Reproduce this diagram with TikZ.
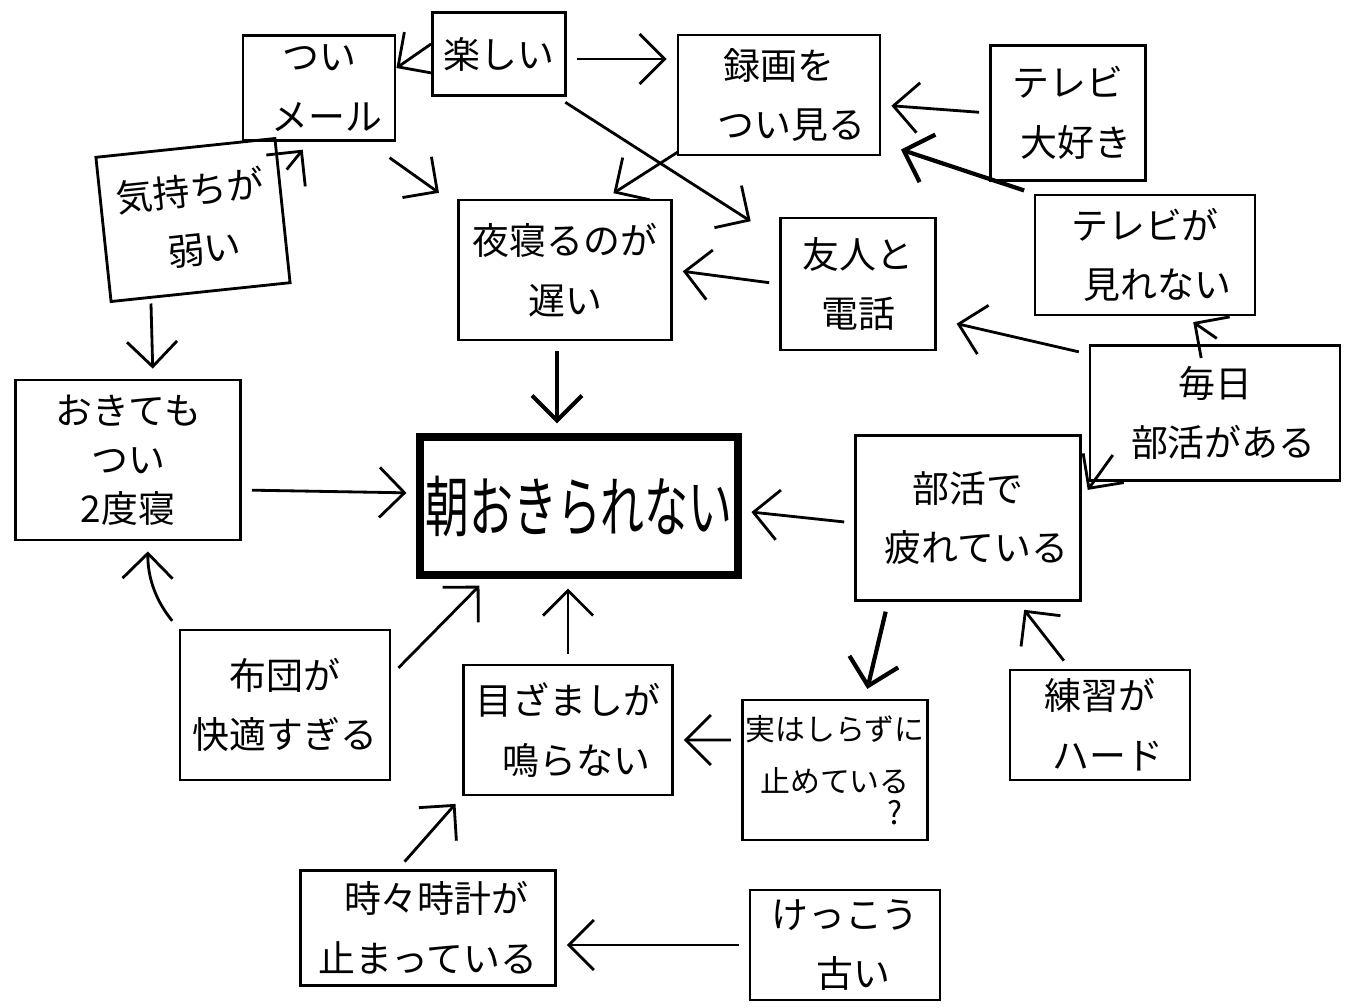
\documentclass[tikz,border=0pt]{standalone}
\usepackage{fontspec}
\setmainfont{Noto Sans CJK JP}
\usetikzlibrary{arrows.meta,calc,positioning}
\tikzset{%
	cause/.style  = {draw, rectangle, thick, align=center, inner sep=1pt, font=\fontsize{10.5}{17}\selectfont},
	effect/.style = {draw, rectangle, line width=2pt, align=center, inner sep=1pt, font=\fontsize{12.5}{15}\selectfont},
	arrow/.style  = {thick, -{Straight Barb[length=2.5mm,width=5mm]}, shorten <=1mm, shorten >=1mm},
}

\begin{document}
\begin{tikzpicture}
	\useasboundingbox (0,0) rectangle (13.45,-10.07);
	% boxes
	\node[cause, minimum width=1.52cm, minimum height=1.05cm] (mail) at (3.19,-0.88) {つい\\\ \ メール};
	\node[cause, minimum width=1.33cm, minimum height=0.83cm] (fun) at (4.99,-0.54) {楽しい};
	\node[cause, minimum width=2.02cm, minimum height=1.20cm] (rec) at (7.79,-0.95) {録画を\\\ \ \ つい見る};
	\node[cause, minimum width=1.55cm, minimum height=1.35cm] (tvlove) at (10.68,-1.13) {テレビ\\\ \ 大好き};
	\node[cause, minimum width=1.80cm, minimum height=1.45cm, rotate=6] (weak) at (1.93,-2.20) {気持ちが\\\ \ 弱い};
	\node[cause, minimum width=2.13cm, minimum height=1.40cm] (late) at (5.65,-2.70) {夜寝るのが\\遅い};
	\node[cause, minimum width=1.55cm, minimum height=1.32cm] (phone) at (8.58,-2.84) {友人と\\電話};
	\node[cause, minimum width=2.20cm, minimum height=1.20cm] (tvno) at (11.45,-2.55) {テレビが\\\ \ \ 見れない};
	\node[cause, minimum width=2.50cm, minimum height=1.35cm] (club) at (12.15,-4.13) {毎日\\\ \ 部活がある};
	\node[cause, minimum width=2.25cm, minimum height=1.60cm, font=\fontsize{10.5}{14}\selectfont] (again) at (1.28,-4.60) {おきても\\つい\\2度寝};
	\node[effect, minimum width=3.18cm, minimum height=1.38cm] (wake) at (5.79,-5.06) {\scalebox{1}[1.5]{朝おきられない}};
	\node[cause, minimum width=2.25cm, minimum height=1.65cm] (tired) at (9.68,-5.18) {部活で\\\ \ 疲れている};
	\node[cause, minimum width=2.10cm, minimum height=1.50cm] (futon) at (2.85,-7.05) {布団が\\快適すぎる};
	\node[cause, minimum width=2.09cm, minimum height=1.30cm] (alarm) at (5.68,-7.30) {目ざましが\\\ \ 鳴らない};
	\node[cause, minimum width=1.75cm, minimum height=1.40cm, font=\fontsize{8.5}{15}\selectfont] (stop) at (8.35,-7.70) {実はしらずに\\止めている\\[-6pt]\hspace*{1.2cm}{\small ?}};
	\node[cause, minimum width=1.80cm, minimum height=1.10cm] (hard) at (11.00,-7.25) {練習が\\\ \ ハード};
	\node[cause, minimum width=2.55cm, minimum height=1.15cm] (clock) at (4.28,-9.28) {\ \ 時々時計が\\止まっている};
	\node[cause, minimum width=1.90cm, minimum height=1.10cm] (old) at (8.45,-9.45) {けっこう\\\ \ 古い};
	
	% arrows
	\draw[arrow, shorten <=0pt, shorten >=0pt] ([yshift=1mm]fun.west) -- ([yshift=2mm]mail.east);
	\draw[arrow] ([yshift=-0.5mm]fun.east) -- ([yshift=-0.5mm]rec.west |- fun.east);
	\draw[arrow] ([xshift=-1mm]fun.south east) -- ([xshift=-2mm,yshift=-1mm]phone.north west);
	\draw[arrow] (tvlove.west) -- ([yshift=-1mm]rec.east);
	\draw[arrow, very thick] (tvno.north west) -- ([xshift=1mm,yshift=1mm]rec.south east);
	\draw[arrow] ([xshift=1mm,yshift=1mm]rec.south west) -- ([xshift=4mm]late.north);
	\draw[arrow] ([xshift=-1.5mm,yshift=-1mm]mail.south east) -- ([xshift=-1mm]late.north west);
	\draw[arrow] (weak.20) -- ([xshift=-1mm]mail.south);
	\draw[arrow] ([xshift=-5mm]weak.south) -- ([xshift=2.5mm]again.north);
	\draw[arrow] (phone.west) -- (late.east);
	\draw[arrow] ([yshift=-1mm]club.north west) -- ([xshift=1mm,yshift=3mm]phone.south east);
	\draw[arrow] ([xshift=1mm]club.north) -- ([xshift=4mm]tvno.south);
	\draw[arrow] ([xshift=3mm,yshift=3.5mm]club.south west) -- ([yshift=2mm]tired.east);
	\draw[arrow, very thick] ([xshift=-0.8mm]late.south) -- ([xshift=-0.8mm]late.south |- wake.north);
	\draw[arrow] ([yshift=-3mm]again.east) -- ([yshift=1.3mm]wake.west);
	\draw[arrow] ([yshift=-0.5mm]tired.west) -- ([yshift=-0.5mm]wake.east);
	\draw[arrow] (futon.north west) to[bend left=20] ([xshift=2mm]again.south);
	\draw[arrow] ([yshift=3mm]futon.east) -- ([xshift=7mm]wake.south west);
	\draw[arrow] (alarm.north) -- (alarm.north |- wake.south);
	\draw[arrow, very thick] ([xshift=-8mm]tired.south) -- ([xshift=3mm]stop.north);
	\draw[arrow] ([yshift=3mm]stop.west) -- ([yshift=-1mm]alarm.east);
	\draw[arrow] ([xshift=-3mm]hard.north) -- ([xshift=5mm]tired.south);
	\draw[arrow] ([xshift=-3mm]clock.north) -- (alarm.south west);
	\draw[arrow] (old.west) -- (old.west -| clock.east);
\end{tikzpicture}
\end{document}
